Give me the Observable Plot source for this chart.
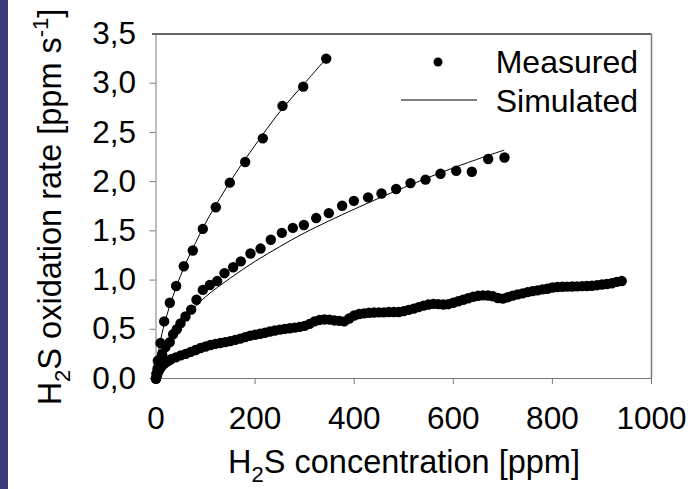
<!DOCTYPE html>
<html>
<head>
<meta charset="utf-8">
<script src="https://cdn.jsdelivr.net/npm/d3@7"></script>
<script src="https://cdn.jsdelivr.net/npm/@observablehq/plot@0.6"></script>
<style>
  html, body { margin: 0; padding: 0; background: #fff; }
  #wrap { position: relative; width: 700px; height: 489px; overflow: hidden; }
  #bar { position: absolute; left: 0; top: 0; width: 8px; height: 489px; background: #3b3a7b; }
  #chart { position: absolute; left: 0; top: 0; }
</style>
</head>
<body>
<div id="wrap"><div id="chart"></div><div id="bar"></div></div>
<script>
// ---- Data ----
const xTicks = [0, 200, 400, 600, 800, 1000];
const yTicks = [0, 0.5, 1.0, 1.5, 2.0, 2.5, 3.0, 3.5];

// Measured series A (steep)
const measA_x = [0, 1, 3.7, 9.1, 16.5, 27.9, 40.7, 56.1, 74.3, 94.5, 120.7, 149, 180, 215.6, 255.3, 297.1, 343.5];
const measA_y = [0, 0.05, 0.18, 0.36, 0.58, 0.77, 0.94, 1.14, 1.30, 1.52, 1.74, 1.99, 2.20, 2.44, 2.77, 2.965, 3.25];

// Measured series B (middle)
const measB_x = [0, 1.5, 3, 5.7, 9, 12.4, 19.2, 27.9, 34.6, 42, 49.4, 59.5, 71, 81.7, 94.5, 108.6, 123.5, 138.2, 155.7, 171.2, 190.7, 211, 231.7, 254, 276.1, 298.4, 323.3, 348.8, 375.7, 399.3, 428, 455.1, 484.7, 513.6, 543.9, 574.2, 605.9, 637.4, 670.4, 703.3];
const measB_y = [0, 0.05, 0.1, 0.15, 0.2, 0.25, 0.32, 0.37, 0.45, 0.5, 0.56, 0.63, 0.70, 0.80, 0.90, 0.95, 0.99, 1.07, 1.13, 1.19, 1.27, 1.32, 1.41, 1.48, 1.53, 1.56, 1.63, 1.68, 1.755, 1.805, 1.84, 1.88, 1.925, 1.985, 2.02, 2.08, 2.11, 2.10, 2.23, 2.245];

// Measured series C (dense, low)
const measC_x = [0, 2, 5, 8, 12, 16, 20, 25, 30, 40, 50, 60, 70, 80, 90, 100, 110, 120, 130, 140, 150, 160, 170, 180, 190, 200, 210, 220, 230, 240, 250, 260, 270, 280, 290, 300, 310, 320, 330, 340, 350, 360, 370, 380, 390, 400, 410, 420, 430, 440, 450, 460, 470, 480, 490, 500, 510, 520, 530, 540, 550, 560, 570, 580, 590, 600, 610, 620, 630, 640, 650, 660, 670, 680, 690, 700, 710, 720, 730, 740, 750, 760, 770, 780, 790, 800, 810, 820, 830, 840, 850, 860, 870, 880, 890, 900, 910, 920, 930, 940];
const measC_y = [0, 0.03, 0.07, 0.10, 0.13, 0.15, 0.165, 0.18, 0.195, 0.215, 0.235, 0.25, 0.27, 0.29, 0.31, 0.325, 0.34, 0.352, 0.36, 0.37, 0.38, 0.392, 0.405, 0.42, 0.435, 0.445, 0.455, 0.465, 0.478, 0.488, 0.497, 0.504, 0.51, 0.517, 0.525, 0.535, 0.555, 0.58, 0.595, 0.60, 0.598, 0.59, 0.585, 0.58, 0.61, 0.64, 0.655, 0.662, 0.668, 0.67, 0.672, 0.672, 0.675, 0.675, 0.675, 0.685, 0.697, 0.71, 0.725, 0.74, 0.752, 0.758, 0.756, 0.752, 0.755, 0.77, 0.785, 0.80, 0.815, 0.83, 0.84, 0.845, 0.843, 0.835, 0.818, 0.812, 0.825, 0.842, 0.855, 0.865, 0.878, 0.888, 0.895, 0.905, 0.912, 0.925, 0.93, 0.932, 0.933, 0.935, 0.936, 0.938, 0.94, 0.942, 0.948, 0.955, 0.96, 0.968, 0.982, 0.99];

// Simulated curves
const simA_x = [0, 2, 5, 10, 20, 40, 60, 80, 100, 130, 160, 200, 250, 300, 345];
const simA_y = [0, 0.16, 0.27, 0.41, 0.61, 0.92, 1.17, 1.38, 1.58, 1.84, 2.08, 2.37, 2.71, 3.00, 3.26];
const simB_x = [0, 5, 10, 20, 40, 60, 100, 150, 200, 250, 300, 400, 500, 600, 702];
const simB_y = [0, 0.17, 0.24, 0.35, 0.51, 0.63, 0.83, 1.02, 1.19, 1.34, 1.48, 1.72, 1.94, 2.14, 2.32];

// ---- Build tables ----
const zip = (xs, ys, s) => xs.map((x, i) => ({x, y: ys[i], s}));
const measured = [...zip(measC_x, measC_y, "C"), ...zip(measB_x, measB_y, "B"), ...zip(measA_x, measA_y, "A")];
const simulated = [...zip(simA_x, simA_y, "A"), ...zip(simB_x, simB_y, "B")];

const FONT = "'Liberation Sans', Arial, Helvetica, sans-serif";
const fmt = d => d.toFixed(1).replace(".", ",");
const frameColor = "#7a7a7a";

const plot = Plot.plot({
  width: 700,
  height: 489,
  marginLeft: 155.5,
  marginRight: 49,
  marginTop: 33.5,
  marginBottom: 111,
  style: {fontFamily: FONT, fontSize: "31.5px", color: "#000", background: "transparent", overflow: "visible"},
  x: {domain: [0, 1000]},
  y: {domain: [0, 3.5]},
  marks: [
    Plot.axisX({ticks: xTicks, tickSize: 6, tickPadding: 22, label: null, stroke: frameColor, fill: "#000", tickFormat: d => String(d)}),
    Plot.axisY({ticks: yTicks.slice(0, -1), tickSize: 6, tickPadding: 14, label: null, stroke: frameColor, fill: "#000", tickFormat: fmt}),
    Plot.text([3.5], {x: 0, y: d => d, text: d => fmt(d), textAnchor: "end", dx: -20, fontSize: 31.5, fill: "#000"}),
    Plot.ruleX([0], {y1: 0, y2: 3.5, stroke: frameColor, strokeWidth: 1}),
    Plot.ruleX([1000], {y1: 0, y2: 3.5, stroke: frameColor, strokeWidth: 1.5}),
    Plot.ruleY([0], {x1: 0, x2: 1000, stroke: frameColor, strokeWidth: 1}),
    Plot.ruleY([3.5], {x1: -7, x2: 1000, stroke: "#666", strokeWidth: 2}),
    Plot.line(simulated, {x: "x", y: "y", z: "s", stroke: "#000", strokeWidth: 1, curve: "catmull-rom"}),
    Plot.dot(measured, {x: "x", y: "y", r: 5.2, fill: "#000", stroke: "none"})
  ]
});
document.getElementById("chart").appendChild(plot);

// ---- Axis titles and legend ----
const svg = d3.select(plot);
const xt = svg.append("text")
  .attr("x", 404).attr("y", 473)
  .attr("text-anchor", "middle")
  .style("font-family", FONT).style("font-size", "32.5px").attr("fill", "#000");
xt.append("tspan").text("H");
xt.append("tspan").attr("dy", 9).style("font-size", "22px").text("2");
xt.append("tspan").attr("dy", -9).text("S concentration [ppm]");

const yt = svg.append("text")
  .attr("transform", "translate(61,207) rotate(-90)")
  .attr("text-anchor", "middle")
  .style("font-family", FONT).style("font-size", "32.5px").attr("fill", "#000");
yt.append("tspan").text("H");
yt.append("tspan").attr("dy", 9).style("font-size", "22px").text("2");
yt.append("tspan").attr("dy", -9).text("S oxidation rate [ppm s");
yt.append("tspan").attr("dy", -13).style("font-size", "22px").text("-1");
yt.append("tspan").attr("dy", 13).text("]");

const lg = svg.append("g").style("font-family", FONT).style("font-size", "32px");
lg.append("circle").attr("cx", 438).attr("cy", 62).attr("r", 4.5).attr("fill", "#000");
lg.append("text").attr("x", 638).attr("y", 73).attr("text-anchor", "end").attr("fill", "#000").text("Measured");
lg.append("line").attr("x1", 401).attr("x2", 477).attr("y1", 100).attr("y2", 100).attr("stroke", "#000").attr("stroke-width", 1.2);
lg.append("text").attr("x", 638).attr("y", 112).attr("text-anchor", "end").attr("fill", "#000").text("Simulated");
</script>
</body>
</html>
